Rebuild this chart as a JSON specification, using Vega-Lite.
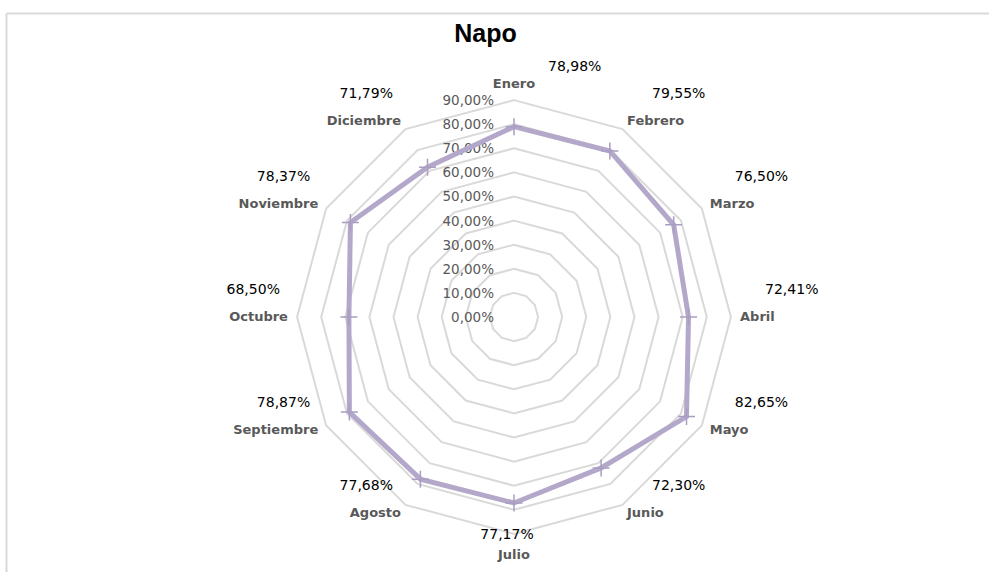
{
  "$schema": "https://vega.github.io/schema/vega-lite/v6.json",
  "width": 983,
  "height": 559,
  "autosize": {"type": "none"},
  "padding": {"left": 6, "top": 13, "right": 0, "bottom": 0},
  "background": "white",
  "config": {
    "locale": {"number": {"decimal": ",", "thousands": ".", "grouping": [3], "currency": ["", " €"]}},
    "view": {"stroke": null}
  },
  "title": {
    "text": "Napo",
    "font": "Liberation Sans",
    "fontSize": 25,
    "fontWeight": "bold",
    "color": "#000000",
    "anchor": "middle",
    "baseline": "alphabetic",
    "dx": -12,
    "dy": 58
  },
  "datasets": {
    "meses": [
      {"mes": "Enero", "valor": 0.7898},
      {"mes": "Febrero", "valor": 0.7955},
      {"mes": "Marzo", "valor": 0.7650},
      {"mes": "Abril", "valor": 0.7241},
      {"mes": "Mayo", "valor": 0.8265},
      {"mes": "Junio", "valor": 0.7230},
      {"mes": "Julio", "valor": 0.7717},
      {"mes": "Agosto", "valor": 0.7768},
      {"mes": "Septiembre", "valor": 0.7887},
      {"mes": "Octubre", "valor": 0.6850},
      {"mes": "Noviembre", "valor": 0.7837},
      {"mes": "Diciembre", "valor": 0.7179}
    ],
    "anillos": [
      {"nivel": 0.1, "k": [0,1,2,3,4,5,6,7,8,9,10,11]},
      {"nivel": 0.2, "k": [0,1,2,3,4,5,6,7,8,9,10,11]},
      {"nivel": 0.3, "k": [0,1,2,3,4,5,6,7,8,9,10,11]},
      {"nivel": 0.4, "k": [0,1,2,3,4,5,6,7,8,9,10,11]},
      {"nivel": 0.5, "k": [0,1,2,3,4,5,6,7,8,9,10,11]},
      {"nivel": 0.6, "k": [0,1,2,3,4,5,6,7,8,9,10,11]},
      {"nivel": 0.7, "k": [0,1,2,3,4,5,6,7,8,9,10,11]},
      {"nivel": 0.8, "k": [0,1,2,3,4,5,6,7,8,9,10,11]},
      {"nivel": 0.9, "k": [0,1,2,3,4,5,6,7,8,9,10,11]}
    ],
    "niveles": [
      {"nivel": 0.0}, {"nivel": 0.1}, {"nivel": 0.2}, {"nivel": 0.3}, {"nivel": 0.4},
      {"nivel": 0.5}, {"nivel": 0.6}, {"nivel": 0.7}, {"nivel": 0.8}, {"nivel": 0.9}
    ]
  },
  "encoding": {
    "x": {
      "field": "px", "type": "quantitative",
      "scale": {"domain": [-2.10788, 1.97095], "nice": false, "zero": false},
      "axis": {"orient": "top", "labels": false, "ticks": false, "grid": false, "title": null, "domainColor": "#d9d9d9", "domainWidth": 2}
    },
    "y": {
      "field": "py", "type": "quantitative",
      "scale": {"domain": [-1.05809, 1.26141], "nice": false, "zero": false},
      "axis": {"orient": "left", "labels": false, "ticks": false, "grid": false, "title": null, "domainColor": "#d9d9d9", "domainWidth": 2}
    }
  },
  "layer": [
    {
      "data": {"name": "anillos"},
      "transform": [
        {"flatten": ["k"]},
        {"calculate": "datum.k * PI / 6", "as": "theta"},
        {"calculate": "datum.nivel * sin(datum.theta)", "as": "px"},
        {"calculate": "datum.nivel * cos(datum.theta)", "as": "py"}
      ],
      "mark": {"type": "line", "color": "#d9d9d9", "strokeWidth": 2, "interpolate": "linear-closed"},
      "encoding": {
        "detail": {"field": "nivel", "type": "nominal"},
        "order": {"field": "k", "type": "quantitative"}
      }
    },
    {
      "data": {"name": "niveles"},
      "transform": [
        {"calculate": "0", "as": "px"},
        {"calculate": "datum.nivel", "as": "py"}
      ],
      "mark": {"type": "text", "align": "right", "baseline": "middle", "dx": -20, "dy": 1, "font": "DejaVu Sans", "fontSize": 13.5, "color": "#595959"},
      "encoding": {
        "text": {"field": "nivel", "type": "quantitative", "format": ".2%"}
      }
    },
    {
      "data": {"name": "meses"},
      "transform": [
        {"window": [{"op": "row_number", "as": "idx"}]},
        {"calculate": "(datum.idx - 1) * PI / 6", "as": "theta"},
        {"calculate": "datum.valor * sin(datum.theta)", "as": "px"},
        {"calculate": "datum.valor * cos(datum.theta)", "as": "py"}
      ],
      "layer": [
        {
          "mark": {"type": "line", "color": "#b4a8ca", "strokeWidth": 5, "interpolate": "linear-closed"},
          "encoding": {"order": {"field": "idx", "type": "quantitative"}}
        },
        {
          "mark": {"type": "point", "shape": "M-1,0L1,0M0,-1L0,1", "size": 289, "filled": false, "stroke": "#a99dc2", "strokeWidth": 1.5, "opacity": 1},
          "encoding": {}
        }
      ]
    },
    {
      "data": {"name": "meses"},
      "transform": [
        {"window": [{"op": "row_number", "as": "idx"}]},
        {"filter": "datum.idx == 1"},
        {"calculate": "(datum.idx - 1) * PI / 6", "as": "theta"},
        {"calculate": "0.938 * sin(datum.theta)", "as": "px"},
        {"calculate": "0.938 * cos(datum.theta)", "as": "py"}
      ],
      "layer": [
        {
          "mark": {"type": "text", "align": "center", "baseline": "bottom", "font": "DejaVu Sans", "fontWeight": "bold", "fontSize": 13, "color": "#595959"},
          "encoding": {"text": {"field": "mes", "type": "nominal"}}
        },
        {
          "mark": {"type": "text", "align": "left", "baseline": "middle", "dx": 34, "dy": -24, "font": "DejaVu Sans", "fontSize": 14, "color": "#000000"},
          "encoding": {"text": {"field": "valor", "type": "quantitative", "format": ".2%"}}
        }
      ]
    },
    {
      "data": {"name": "meses"},
      "transform": [
        {"window": [{"op": "row_number", "as": "idx"}]},
        {"filter": "datum.idx == 7"},
        {"calculate": "(datum.idx - 1) * PI / 6", "as": "theta"},
        {"calculate": "0.938 * sin(datum.theta)", "as": "px"},
        {"calculate": "0.938 * cos(datum.theta)", "as": "py"}
      ],
      "layer": [
        {
          "mark": {"type": "text", "align": "center", "baseline": "top", "dy": 6, "font": "DejaVu Sans", "fontWeight": "bold", "fontSize": 13, "color": "#595959"},
          "encoding": {"text": {"field": "mes", "type": "nominal"}}
        },
        {
          "mark": {"type": "text", "align": "center", "baseline": "middle", "dx": -7, "dy": -8, "font": "DejaVu Sans", "fontSize": 14, "color": "#000000"},
          "encoding": {"text": {"field": "valor", "type": "quantitative", "format": ".2%"}}
        }
      ]
    },
    {
      "data": {"name": "meses"},
      "transform": [
        {"window": [{"op": "row_number", "as": "idx"}]},
        {"filter": "datum.idx >= 2 && datum.idx <= 6"},
        {"calculate": "(datum.idx - 1) * PI / 6", "as": "theta"},
        {"calculate": "0.938 * sin(datum.theta)", "as": "px"},
        {"calculate": "0.938 * cos(datum.theta)", "as": "py"}
      ],
      "layer": [
        {
          "mark": {"type": "text", "align": "left", "baseline": "middle", "font": "DejaVu Sans", "fontWeight": "bold", "fontSize": 13, "color": "#595959"},
          "encoding": {"text": {"field": "mes", "type": "nominal"}}
        },
        {
          "mark": {"type": "text", "align": "left", "baseline": "middle", "dx": 25, "dy": -27, "font": "DejaVu Sans", "fontSize": 14, "color": "#000000"},
          "encoding": {"text": {"field": "valor", "type": "quantitative", "format": ".2%"}}
        }
      ]
    },
    {
      "data": {"name": "meses"},
      "transform": [
        {"window": [{"op": "row_number", "as": "idx"}]},
        {"filter": "datum.idx >= 8"},
        {"calculate": "(datum.idx - 1) * PI / 6", "as": "theta"},
        {"calculate": "0.938 * sin(datum.theta)", "as": "px"},
        {"calculate": "0.938 * cos(datum.theta)", "as": "py"}
      ],
      "layer": [
        {
          "mark": {"type": "text", "align": "right", "baseline": "middle", "font": "DejaVu Sans", "fontWeight": "bold", "fontSize": 13, "color": "#595959"},
          "encoding": {"text": {"field": "mes", "type": "nominal"}}
        },
        {
          "mark": {"type": "text", "align": "right", "baseline": "middle", "dx": -8, "dy": -27, "font": "DejaVu Sans", "fontSize": 14, "color": "#000000"},
          "encoding": {"text": {"field": "valor", "type": "quantitative", "format": ".2%"}}
        }
      ]
    }
  ]
}
